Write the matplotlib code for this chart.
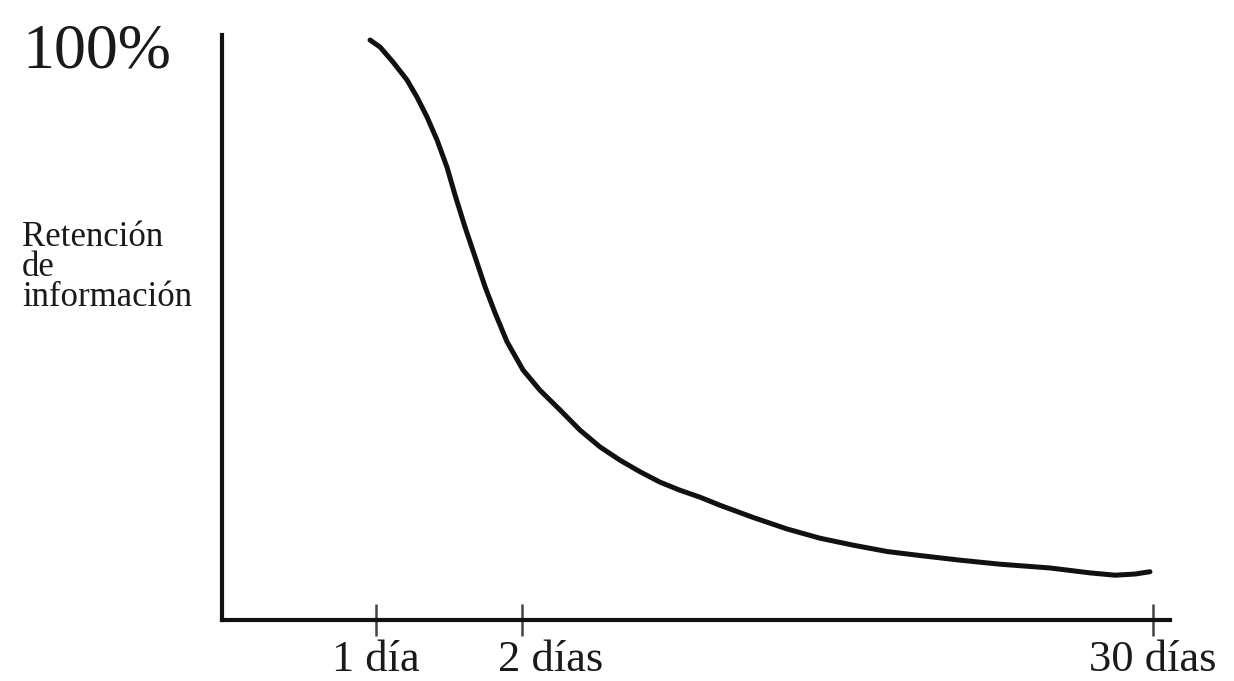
import matplotlib
matplotlib.use("Agg")
import matplotlib.pyplot as plt
from matplotlib.transforms import ScaledTranslation

# curve of information retention (sketch position units, percent)
pos = [0.959, 1.027, 1.116, 1.212, 1.281, 1.349, 1.418, 1.486, 1.541, 1.610,
       1.678, 1.747, 1.815, 1.897, 2.007, 2.123, 2.260, 2.397, 2.534, 2.671,
       2.808, 2.945, 3.082, 3.219, 3.356, 3.582, 3.815, 4.041, 4.267, 4.500,
       4.726, 5.000, 5.274, 5.616, 5.890, 6.062, 6.199, 6.301]
retention = [100.0, 98.8, 96.2, 93.1, 90.1, 86.7, 82.7, 78.0, 73.2, 67.6,
             62.5, 57.3, 52.8, 47.8, 42.9, 39.4, 36.0, 32.5, 29.6, 27.3,
             25.3, 23.5, 22.1, 20.9, 19.5, 17.4, 15.4, 13.8, 12.6, 11.5,
             10.8, 10.0, 9.3, 8.65, 7.8, 7.4, 7.6, 8.0]

tick_pos = [1, 2, 6.32]
tick_labels = ["1 día", "2 días", "30 días"]

plt.rcParams["font.family"] = ["Liberation Serif", "DejaVu Serif"]

fig = plt.figure(figsize=(12.34, 6.81), dpi=100)
ax = fig.add_axes([0.1799, 0.0896, 0.7682, 0.859])

ax.plot(pos, retention, color="#111111", lw=3.6,
        solid_capstyle="round", solid_joinstyle="round")

ax.set_xlim(-0.055, 6.438)
ax.set_ylim(-0.35, 100.87)

for s in ["top", "right"]:
    ax.spines[s].set_visible(False)
for s in ["left", "bottom"]:
    ax.spines[s].set_linewidth(3.0)
    ax.spines[s].set_color("#111111")

ax.set_yticks([])
ax.set_xticks(tick_pos)
ax.set_xticklabels(tick_labels, fontsize=32, color="#1a1a1a")
ax.tick_params(axis="x", direction="inout", length=23, width=1.8,
               color="#444444", pad=3)

# the "2 días" label sits to the right of its tick in the sketch
lbl = ax.get_xticklabels()[1]
lbl.set_transform(lbl.get_transform() + ScaledTranslation(0.29, 0, fig.dpi_scale_trans))

fig.text(0.0178, 0.9016, "100%", fontsize=46, color="#1a1a1a", va="baseline")
fig.text(0.0178, 0.676, "Retención\nde\ninformación", fontsize=25,
         color="#1a1a1a", va="top", linespacing=0.89)

fig.savefig("out.png", dpi=100, facecolor="white")
